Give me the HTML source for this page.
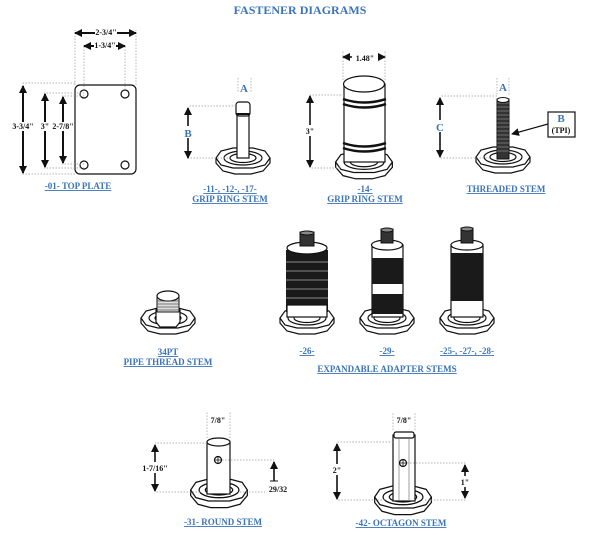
<!DOCTYPE html>
<html><head><meta charset="utf-8"><style>
html,body{margin:0;padding:0;background:#fff}
svg{display:block}
.l{font-family:"Liberation Serif",serif;font-weight:bold;font-size:9px;fill:#3b74bb;text-decoration:underline;text-anchor:middle}
.d{font-family:"Liberation Serif",serif;font-weight:bold;font-size:8px;fill:#111;text-anchor:middle}
.b{font-family:"Liberation Serif",serif;font-weight:bold;font-size:11px;fill:#3b74bb;text-anchor:middle}
.k{stroke:#111;stroke-width:1.2;fill:#fff}
.dot{stroke:#999;stroke-width:.7;stroke-dasharray:1.5 1.5;fill:none}
</style></head><body>
<svg width="600" height="548" viewBox="0 0 600 548" xmlns="http://www.w3.org/2000/svg">
<defs>
<marker id="ar" markerUnits="userSpaceOnUse" markerWidth="8" markerHeight="8" refX="7" refY="4" orient="auto-start-reverse"><path d="M0,0 L8,4 L0,8z" fill="#111"/></marker>
<g id="base">
<path class="k" d="M-27,0 L-27,5 L-20,13 L-8,16 L8,16 L20,13 L27,5 L27,0"/>
<polygon class="k" points="-27,0 -22,-7 -10,-10 10,-10 22,-7 27,0 22,7 10,10 -10,10 -22,7"/>
<ellipse class="k" cx="0" cy="0" rx="19" ry="7"/>
<ellipse class="k" cx="0" cy="0" rx="13" ry="4.5"/>
</g>
</defs>
<text x="300" y="14" font-family="Liberation Serif,serif" font-weight="bold" font-size="12" fill="#3b74bb" text-anchor="middle">FASTENER DIAGRAMS</text>

<!-- top plate -->
<rect class="k" x="75" y="85" width="61" height="89" rx="5"/>
<g class="k"><circle cx="84" cy="94" r="4"/><circle cx="125" cy="94" r="4"/><circle cx="84" cy="165" r="4"/><circle cx="125" cy="165" r="4"/></g>
<path class="dot" d="M75,85 V30 M136,85 V30 M84,90 V45 M125,90 V45 M75,83 H22 M84,93 H44 M84,96 H62 M75,174 H22 M84,168 H44 M84,164 H62"/>
<line x1="75" y1="33" x2="136" y2="33" stroke="#111" stroke-width="2" marker-start="url(#ar)" marker-end="url(#ar)"/>
<rect x="95" y="28" width="22" height="9" fill="#fff"/><text class="d" x="106" y="35" font-size="6">2-3/4"</text>
<line x1="84" y1="46" x2="125" y2="46" stroke="#111" stroke-width="2" marker-start="url(#ar)" marker-end="url(#ar)"/>
<rect x="94" y="41" width="22" height="9" fill="#fff"/><text class="d" x="105" y="48" font-size="6">1-3/4"</text>
<line x1="23" y1="86" x2="23" y2="173" stroke="#111" stroke-width="2" marker-start="url(#ar)" marker-end="url(#ar)"/>
<rect x="12" y="122" width="22" height="9" fill="#fff"/><text class="d" x="23" y="129" font-size="6">3-3/4"</text>
<line x1="45" y1="94" x2="45" y2="167" stroke="#111" stroke-width="2" marker-start="url(#ar)" marker-end="url(#ar)"/>
<rect x="38" y="122" width="14" height="9" fill="#fff"/><text class="d" x="45" y="129" font-size="6">3"</text>
<line x1="63" y1="97" x2="63" y2="163" stroke="#111" stroke-width="2" marker-start="url(#ar)" marker-end="url(#ar)"/>
<rect x="53" y="122" width="20" height="9" fill="#fff"/><text class="d" x="63" y="129" font-size="6">2-7/8"</text>
<text class="l" x="78" y="189">-01- TOP PLATE</text>

<!-- grip ring 11 -->
<use href="#base" x="243" y="158"/>
<rect class="k" x="237" y="112" width="12" height="46"/>
<rect class="k" x="236" y="102" width="14" height="14" rx="3"/>
<path d="M236,114 H250" stroke="#111" stroke-width="2"/>
<path class="dot" d="M238,78 V92 M251,78 V92 M236,106 H188 M228,158 H188"/>
<text class="b" x="244" y="92">A</text>
<line x1="188" y1="108" x2="188" y2="158" stroke="#111" stroke-width="1.6" marker-start="url(#ar)" marker-end="url(#ar)"/>
<rect x="182" y="126" width="12" height="12" fill="#fff"/><text class="b" x="188" y="137">B</text>
<text class="l" x="230" y="192">-11-, -12-, -17-</text>
<text class="l" x="230" y="202">GRIP RING STEM</text>

<!-- 14 -->
<use href="#base" x="364" y="162" transform="translate(364 162) scale(1.05) translate(-364 -162)"/>
<rect class="k" x="344" y="84" width="41" height="78"/>
<ellipse class="k" cx="364" cy="84" rx="20.5" ry="8"/>
<path d="M343,99 Q364,106 386,99 M343,104 Q364,111 386,104 M343,143 Q364,150 386,143 M343,148 Q364,155 386,148" stroke="#111" stroke-width="2.5" fill="none"/>
<path class="dot" d="M343,80 V50 M385,80 V50 M344,95 H310 M340,168 H310"/>
<line x1="343" y1="57" x2="385" y2="57" stroke="#111" stroke-width="1.4" marker-start="url(#ar)" marker-end="url(#ar)"/>
<rect x="352" y="51" width="26" height="11" fill="#fff"/><text class="d" x="365" y="61" font-size="10">1.48"</text>
<line x1="310" y1="96" x2="310" y2="167" stroke="#111" stroke-width="1.6" marker-start="url(#ar)" marker-end="url(#ar)"/>
<rect x="303" y="125" width="14" height="11" fill="#fff"/><text class="d" x="310" y="134" font-size="9">3"</text>
<text class="l" x="365" y="192">-14-</text>
<text class="l" x="365" y="202">GRIP RING STEM</text>

<!-- threaded -->
<use href="#base" x="503" y="157"/>
<rect x="497" y="99" width="12" height="60" fill="#333" stroke="#111"/>
<path d="M497,103 H509 M497,107 H509 M497,111 H509 M497,115 H509 M497,119 H509 M497,123 H509 M497,127 H509 M497,131 H509 M497,135 H509 M497,139 H509 M497,143 H509 M497,147 H509 M497,151 H509" stroke="#888" stroke-width=".8"/>
<ellipse cx="503" cy="100" rx="6" ry="2.5" fill="#fff" stroke="#111"/>
<path class="dot" d="M497,78 V96 M509,78 V96 M497,96 H440 M490,158 H440"/>
<text class="b" x="503" y="91">A</text>
<line x1="440" y1="98" x2="440" y2="157" stroke="#111" stroke-width="1.6" marker-start="url(#ar)" marker-end="url(#ar)"/>
<rect x="434" y="120" width="12" height="12" fill="#fff"/><text class="b" x="440" y="131">C</text>
<rect x="548" y="112" width="27" height="25" fill="#fff" stroke="#111" stroke-width="1.2"/>
<text class="b" x="561" y="122" font-size="9">B</text><text class="d" x="561" y="133" font-size="9">(TPI)</text>
<line x1="548" y1="124" x2="512" y2="134" stroke="#111" stroke-width="1.2" marker-end="url(#ar)"/>
<text class="l" x="506" y="192">THREADED STEM</text>

<!-- 34PT -->
<use href="#base" x="168" y="318"/>
<polygon class="k" points="156,310 160,304 176,304 180,310 180,322 176,327 160,327 156,322"/>
<rect x="157" y="296" width="22" height="16" fill="#ddd" stroke="#111"/>
<ellipse class="k" cx="168" cy="296" rx="11" ry="5"/>
<path d="M157,301 H179 M157,304 H179 M157,307 H179 M157,310 H179" stroke="#555" stroke-width=".8"/>
<text class="l" x="168" y="355">34PT</text>
<text class="l" x="168" y="365">PIPE THREAD STEM</text>

<!-- 26 -->
<use href="#base" x="307" y="318"/>
<rect x="286" y="250" width="42" height="62" fill="#1a1a1a"/>
<path d="M286,262 H328 M286,271 H328 M286,280 H328 M286,289 H328 M286,298 H328" stroke="#888" stroke-width="1"/>
<rect class="k" x="287" y="305" width="40" height="12"/>
<ellipse class="k" cx="307" cy="248" rx="20" ry="6"/>
<rect x="300" y="232" width="14" height="14" fill="#333" stroke="#111"/>
<ellipse cx="307" cy="233" rx="7" ry="2" fill="#888" stroke="#111"/>
<text class="l" x="307" y="354">-26-</text>

<!-- 29 -->
<use href="#base" x="387" y="318"/>
<rect class="k" x="372" y="245" width="31" height="72"/>
<rect x="372" y="258" width="31" height="26" fill="#1a1a1a"/>
<rect x="372" y="294" width="31" height="20" fill="#1a1a1a"/>
<ellipse class="k" cx="387" cy="245" rx="15.5" ry="5"/>
<rect x="381" y="229" width="12" height="14" fill="#333" stroke="#111"/>
<ellipse cx="387" cy="230" rx="6" ry="2" fill="#888" stroke="#111"/>
<text class="l" x="387" y="354">-29-</text>

<!-- 25 -->
<use href="#base" x="467" y="318"/>
<rect class="k" x="451" y="245" width="32" height="72"/>
<rect x="451" y="253" width="32" height="48" fill="#1a1a1a"/>
<ellipse class="k" cx="467" cy="245" rx="16" ry="5"/>
<rect x="461" y="228" width="12" height="15" fill="#333" stroke="#111"/>
<ellipse cx="467" cy="229" rx="6" ry="2" fill="#888" stroke="#111"/>
<text class="l" x="467" y="354">-25-, -27-, -28-</text>
<text class="l" x="387" y="372">EXPANDABLE ADAPTER STEMS</text>

<!-- 31 round -->
<use href="#base" x="219" y="490" transform="translate(219 490) scale(1.05 1.1) translate(-219 -490)"/>
<rect class="k" x="207" y="442" width="23" height="52"/>
<ellipse class="k" cx="218.5" cy="442" rx="11.5" ry="4"/>
<circle class="k" cx="218" cy="460" r="3.5"/><path d="M215,460 H221 M218,457 V463" stroke="#111" stroke-width=".8"/>
<path class="dot" d="M207,438 V412 M230,438 V412 M207,443 H155 M200,492 H155 M222,460 H274 M240,492 H265"/>
<text class="d" x="218" y="423" font-size="9">7/8"</text>
<line x1="155" y1="445" x2="155" y2="491" stroke="#111" stroke-width="1.6" marker-start="url(#ar)" marker-end="url(#ar)"/>
<rect x="136" y="462" width="38" height="11" fill="#fff"/><text class="d" x="155" y="471" font-size="9">1-7/16"</text>
<line x1="274" y1="462" x2="274" y2="481" stroke="#111" stroke-width="1.6" marker-start="url(#ar)"/>
<line x1="270" y1="481" x2="278" y2="481" stroke="#111"/>
<text class="d" x="278" y="492" font-size="9">29/32</text>
<text class="l" x="223" y="525">-31- ROUND STEM</text>

<!-- 42 octagon -->
<use href="#base" x="403" y="497" transform="translate(403 497) scale(1.05 1.1) translate(-403 -497)"/>
<rect class="k" x="393" y="435" width="22" height="66"/>
<rect class="k" x="394" y="432" width="20" height="6" rx="2"/>
<path d="M399,438 V500 M409,438 V500" stroke="#777" stroke-width=".7"/>
<circle class="k" cx="403" cy="463" r="3.5"/><path d="M400,463 H406 M403,460 V466" stroke="#111" stroke-width=".8"/>
<path class="dot" d="M393,430 V412 M415,430 V412 M393,442 H337 M385,500 H337 M407,463 H466 M425,500 H466"/>
<text class="d" x="404" y="423" font-size="9">7/8"</text>
<line x1="337" y1="444" x2="337" y2="499" stroke="#111" stroke-width="1.6" marker-start="url(#ar)" marker-end="url(#ar)"/>
<rect x="330" y="464" width="14" height="11" fill="#fff"/><text class="d" x="337" y="473" font-size="9">2"</text>
<line x1="465" y1="465" x2="465" y2="498" stroke="#111" stroke-width="1.6" marker-start="url(#ar)" marker-end="url(#ar)"/>
<rect x="459" y="476" width="12" height="11" fill="#fff"/><text class="d" x="465" y="485" font-size="9">1"</text>
<text class="l" x="401" y="526">-42- OCTAGON STEM</text>
</svg>
</body></html>
